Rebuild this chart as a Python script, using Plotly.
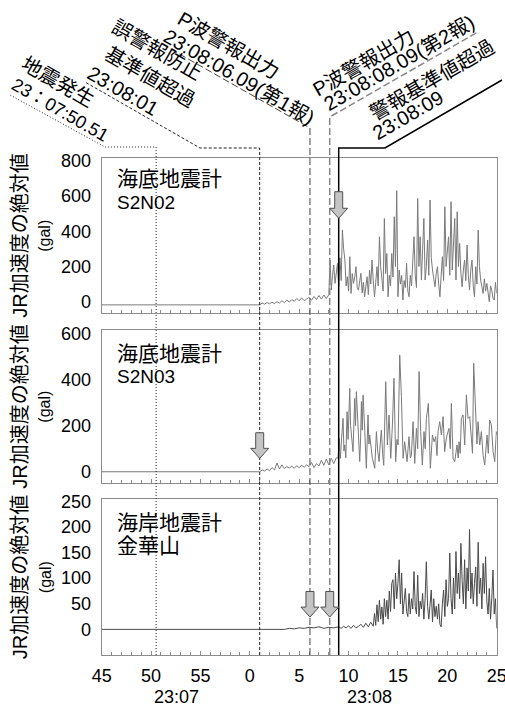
import plotly.graph_objects as go

# figure fills the 505x709 page; body margin removed after plotting (see write_html)
PAGE_W, PAGE_H, OFF = 505, 709, 0
W, H = PAGE_W - OFF, PAGE_H - OFF
FONT = "Liberation Sans, Noto Sans CJK JP, sans-serif"

# ---------------- data ----------------
tick_vals = [45, 50, 55, 60, 65, 70, 75, 80, 85]
tick_text = ['45', '50', '55', '0', '5', '10', '15', '20', '25']
minute_labels = ['23:07', '23:08']
minute_label_t = [52.6, 72.1]

event_t = [50.51, 61.0, 66.09, 68.09, 69.0]
event_text = [
    ["地震発生", "23：07:50.51"],
    ["誤警報防止", "基準値超過", "23:08:01"],
    ["P波警報出力", "23:08:06.09(第1報)"],
    ["P波警報出力", "23:08:08.09(第2報)"],
    ["警報基準値超過", "23:08:09"],
]

panel_name = ["海底地震計", "海底地震計", "海岸地震計"]
panel_sub = ["S2N02", "S2N03", "金華山"]
y_ranges = [[-66, 815], [-50, 614], [-50, 254]]
y_ticks = [[0, 200, 400, 600, 800], [0, 200, 400, 600], [0, 50, 100, 150, 200, 250]]
y_title = "JR加速度の絶対値"
y_unit = "(gal)"

# Panel 1 : S2N02
s1_pre_t = [45, 61.0, 61.25, 61.5, 61.75, 62.0, 62.25, 62.5, 62.75, 63.0, 63.25, 63.5,
            63.75, 64.0, 64.25, 64.5, 64.75, 65.0, 65.25, 65.5, 65.75, 66.0, 66.25,
            66.5, 66.75, 67.0, 67.25, 67.5, 67.75]
s1_pre_v = [-18, -18, -8, -14, -5, -12, -3, -10, 0, -8, 5, -5, 8, -2, 12, 2, 18, 5, 22,
            6, 15, 25, 8, 30, 12, 35, 15, 38, 18]
s1_act_start = 68.0
s1_act_step = 0.125
s1_act_v = [40, 237, 66, 150, 208, 104, 180, 218,
            85, 250, 120, 407, 300, 237, 90, 142,
            60, 256, 47, 160, 104, 140, 199, 80,
            66, 120, 161, 50, 110, 28, 90, 142,
            40, 180, 100, 237, 120, 28, 110, 199,
            90, 369, 200, 123, 60, 473, 160, 274,
            28, 150, 90, 274, 140, 483, 200, 631,
            28, 180, 100, 150, 9, 120, 80, 218,
            60, 28, 150, 90, 237, 369, 150, 80,
            587, 200, 369, 123, 300, 473, 123, 200,
            350, 150, 578, 250, 180, 130, 85, 160,
            199, 100, 28, 150, 256, 120, 540, 200,
            293, 369, 150, 568, 180, 300, 473, 123,
            511, 200, 331, 160, 85, 180, 237, 120,
            322, 150, 66, 180, 237, 90, 28, 199,
            100, 407, 200, 123, 80, 47, 130, 60,
            104, 40, 0, 90, 66, 20, 9, 110,
            47]

# Panel 2 : S2N03
s2_pre_t = [45, 61.0, 61.25, 61.5, 61.75, 62.0, 62.25, 62.5, 62.75, 63.0, 63.25, 63.5,
            63.75, 64.0, 64.25, 64.5, 64.75, 65.0, 65.25, 65.5, 65.75, 66.0, 66.25,
            66.5, 66.75, 67.0, 67.25, 67.5, 67.75, 68.0, 68.25, 68.5, 68.75]
s2_pre_v = [0, 0, 8, 3, 12, 5, 18, 8, 38, 12, 30, 14, 22, 16, 24, 15, 26, 18, 28, 20,
            30, 22, 40, 18, 35, 25, 50, 28, 55, 30, 58, 35, 60]
s2_act_t = [68.94, 69.04, 69.17, 69.3, 69.44, 69.53, 69.61, 69.72, 69.85, 69.95, 70.12,
            70.2, 70.29, 70.45, 70.62, 70.7, 70.79, 70.96, 71.13, 71.22, 71.3, 71.38,
            71.47, 71.64, 71.8, 71.97, 72.06, 72.14, 72.28, 72.41, 72.65, 72.82, 72.95,
            73.09, 73.2, 73.32, 73.45, 73.56, 73.76, 73.93, 74.1, 74.27, 74.44, 74.6,
            74.77, 74.9, 75.01, 75.18, 75.35, 75.52, 75.68, 75.8, 75.92, 76.12, 76.25,
            76.36, 76.53, 76.7, 76.87, 77.0, 77.14, 77.3, 77.47, 77.64, 77.76, 77.88,
            78.08, 78.28, 78.49, 78.66, 78.82, 78.95, 79.06, 79.23, 79.4, 79.57, 79.73,
            79.85, 79.97, 80.17, 80.3, 80.41, 80.58, 80.75, 80.98, 81.1, 81.19, 81.3,
            81.42, 81.59, 81.76, 81.93, 82.1, 82.27, 82.44, 82.55, 82.67, 82.87, 83.0,
            83.11, 83.28, 83.45, 83.62, 83.79, 83.9, 84.02, 84.15, 84.29, 84.46, 84.63,
            84.8, 84.97, 85.0]
s2_act_v = [60, 145, 58, 150, 231, 90, 116, 60, 260, 140, 361,
            200, 159, 87, 318, 200, 347, 159, 44, 150, 304, 180,
            333, 174, 15, 246, 120, 159, 90, 58, 15, 174, 90,
            44, 120, 181, 80, 28, 390, 116, 246, 58, 203, 405,
            44, 140, 116, 506, 325, 58, 130, 90, 44, 152, 60,
            72, 217, 36, 188, 100, 434, 174, 29, 174, 100, 231,
            296, 15, 159, 130, 152, 70, 174, 217, 159, 239, 87,
            130, 159, 188, 100, 296, 58, 44, 116, 60, 130, 80,
            231, 246, 116, 333, 231, 239, 159, 80, 470, 231, 120,
            217, 116, 174, 72, 29, 100, 159, 80, 224, 203, 87,
            44, 174, 160]

# Panel 3 : 金華山
s3_pre_t = [45, 63.5, 64.0, 64.5, 65.0, 65.5, 66.0, 66.5, 67.0, 67.5, 68.0, 68.5, 69.0,
            69.25, 69.5, 69.75, 70.0, 70.25, 70.5, 70.75, 71.0, 71.25, 71.5, 71.75,
            72.0, 72.25, 72.5]
s3_pre_v = [0, 0, 2, 1, 3, 2, 4, 3, 5, 2, 4, 3, 5, 2, 6, 3, 7, 2, 8, 3, 6, 10, 4, 12,
            5, 14, 6]
s3_act_start = 72.625
s3_act_step = 0.125
s3_act_v = [31, 8, 48,
            15, 57, 20, 44, 10, 60, 25, 57,
            20, 75, 35, 90, 97, 40, 110, 60,
            90, 136, 50, 110, 30, 65, 80, 35,
            25, 70, 30, 60, 40, 113, 45, 30,
            106, 25, 55, 40, 70, 20, 60, 132,
            45, 20, 60, 77, 15, 60, 25, 45,
            20, 50, 10, 5, 50, 77, 25, 97,
            45, 60, 149, 60, 30, 100, 40, 152,
            70, 110, 60, 168, 95, 50, 136, 40,
            120, 75, 195, 60, 110, 50, 90, 122,
            45, 170, 70, 100, 40, 129, 70, 142,
            55, 30, 80, 20, 60, 116, 30, 60,
            2]

# block arrows (panel index, time, top value, tip value)
arrow_panel = [0, 1, 2, 2]
arrow_t = [69.0, 61.0, 66.09, 68.09]
arrow_top = [625, 169, 74, 74]
arrow_tip = [474, 58, 24, 24]

# ---------------- layout geometry (page px) ----------------
X0, X1 = 101.7, 496.7
PANEL_PX = [(158.3, 313.3), (330.0, 483.3), (499.3, 655.0)]
T0, T1 = 45, 85
PX_PER_S = (X1 - X0) / (T1 - T0)


def px_x(t):
    return X0 + (t - T0) * PX_PER_S


def pxx(px):
    return (px - OFF) / W


def pxy(py):
    return 1 - (py - OFF) / H


s1_t = s1_pre_t + [s1_act_start + s1_act_step * i for i in range(len(s1_act_v))]
s1_v = s1_pre_v + s1_act_v
s2_t = s2_pre_t + s2_act_t
s2_v = s2_pre_v + s2_act_v
s3_t = s3_pre_t + [s3_act_start + s3_act_step * i for i in range(len(s3_act_v))]
s3_v = s3_pre_v + s3_act_v

series = [(s1_t, s1_v, '#7a7a7a'), (s2_t, s2_v, '#7a7a7a'), (s3_t, s3_v, '#4a4a4a')]

fig = go.Figure()
for i, (t, v, c) in enumerate(series):
    sfx = '' if i == 0 else str(i + 1)
    fig.add_trace(go.Scatter(x=t, y=v, mode='lines', line=dict(color=c, width=1),
                             xaxis='x' + sfx, yaxis='y' + sfx, showlegend=False,
                             hoverinfo='skip'))

FRAME = '#8c8c8c'
layout_axes = {}
for i in range(3):
    sfx = '' if i == 0 else str(i + 1)
    top, bot = PANEL_PX[i]
    layout_axes['xaxis' + sfx] = dict(
        domain=[pxx(X0), pxx(X1)], range=[T0, T1], anchor='y' + sfx, automargin=False,
        showline=True, linecolor=FRAME, linewidth=1, mirror=True,
        ticks='inside', ticklen=4, tickcolor=FRAME,
        tickmode='array', tickvals=tick_vals, ticktext=tick_text,
        showticklabels=(i == 2), ticklabelstandoff=4, ticklabeloverflow='allow',
        minor=dict(tickmode='linear', tick0=45, dtick=1, ticks='inside',
                   ticklen=3, tickcolor=FRAME, showgrid=False),
        showgrid=False, zeroline=False,
        tickfont=dict(size=18, color='black', family=FONT))
    layout_axes['yaxis' + sfx] = dict(
        domain=[pxy(bot), pxy(top)], range=y_ranges[i], anchor='x' + sfx, automargin=False,
        showline=True, linecolor=FRAME, linewidth=1, mirror=True,
        tickmode='array', tickvals=y_ticks[i], ticks='', ticklabelstandoff=6,
        ticklabeloverflow='allow', showgrid=False, zeroline=False,
        tickfont=dict(size=18, color='black', family=FONT))

shapes = []
annotations = []

# event lines: vertical part + leader to the text
line_styles = [
    dict(color='#222222', width=1, dash='1px,2px'),
    dict(color='#222222', width=1, dash='3px,2px'),
    dict(color='#444444', width=1, dash='7px,3px'),
    dict(color='#888888', width=1.5, dash='7px,3px'),
    dict(color='#000000', width=1.5, dash='solid'),
]
leader_top = [147, 148, 128, 117, 148]
leader_bends = [
    [(105, 147), (10, 95)],
    [(200, 148), (85, 82)],
    [(160, 43)],
    [(478, 32)],
    [(385, 148), (502, 80)],
]
for k, t in enumerate(event_t):
    ex = px_x(t)
    pts = [(ex, PANEL_PX[2][1]), (ex, leader_top[k])] + leader_bends[k]
    path = 'M ' + ' L '.join(f'{pxx(a):.5f},{pxy(b):.5f}' for a, b in pts)
    shapes.append(dict(type='path', xref='paper', yref='paper', path=path,
                       line=line_styles[k], layer='above'))

# rotated event labels (one annotation per text line, centre in page px)
label_pos = [
    [(58, 82), (60, 110)],
    [(157, 50), (150, 77), (123, 91)],
    [(228, 45), (239, 77)],
    [(363, 63), (399, 63)],
    [(432, 80), (408, 115)],
]
label_size = [[20, 18], [20, 20, 20], [20, 20], [20, 20], [20, 20]]
label_angle = [30, 30, 30, -30, -30]
for k, lines in enumerate(event_text):
    for j, txt in enumerate(lines):
        cx, cy = label_pos[k][j]
        annotations.append(dict(text=txt, x=pxx(cx), y=pxy(cy), xref='paper', yref='paper',
                                xanchor='center', yanchor='middle', showarrow=False,
                                textangle=label_angle[k],
                                font=dict(size=label_size[k][j], color='black', family=FONT)))

# block arrows
HW, HH, HL = 4.0, 9.0, 10.0  # shaft half-width, head half-width, head length (px)
for k in range(len(arrow_t)):
    p = arrow_panel[k]
    sfx = '' if p == 0 else str(p + 1)
    top, bot = PANEL_PX[p]
    upp = (y_ranges[p][1] - y_ranges[p][0]) / (bot - top)
    t = arrow_t[k]
    a, b = HW / PX_PER_S, HH / PX_PER_S
    base = arrow_tip[k] + HL * upp
    pts = [(t - a, arrow_top[k]), (t + a, arrow_top[k]), (t + a, base), (t + b, base),
           (t, arrow_tip[k]), (t - b, base), (t - a, base)]
    path = 'M ' + ' L '.join(f'{x:.4f},{y:.3f}' for x, y in pts) + ' Z'
    shapes.append(dict(type='path', xref='x' + sfx, yref='y' + sfx, path=path,
                       fillcolor='#c4c4c4', line=dict(color='#505050', width=1),
                       layer='above'))

# panel names and y titles
name_y = [(178, 202), (353, 377), (522, 545)]
for i in range(3):
    annotations.append(dict(text=panel_name[i], x=pxx(115), y=pxy(name_y[i][0]),
                            xref='paper', yref='paper', xanchor='left', yanchor='middle',
                            showarrow=False, font=dict(size=21, color='black', family=FONT)))
    annotations.append(dict(text=panel_sub[i], x=pxx(115), y=pxy(name_y[i][1]),
                            xref='paper', yref='paper', xanchor='left', yanchor='middle',
                            showarrow=False, font=dict(size=19 if i < 2 else 21,
                                                       color='black', family=FONT)))
    cy = (PANEL_PX[i][0] + PANEL_PX[i][1]) / 2
    annotations.append(dict(text=y_title, x=pxx(20), y=pxy(cy), xref='paper', yref='paper',
                            xanchor='center', yanchor='middle', showarrow=False,
                            textangle=-90, font=dict(size=20, color='black', family=FONT)))
    annotations.append(dict(text=y_unit, x=pxx(45), y=pxy(cy), xref='paper', yref='paper',
                            xanchor='center', yanchor='middle', showarrow=False,
                            textangle=-90, font=dict(size=16, color='black', family=FONT)))

# minute labels under the time axis
for lab, t in zip(minute_labels, minute_label_t):
    annotations.append(dict(text=lab, x=pxx(px_x(t)), y=pxy(697), xref='paper', yref='paper',
                            xanchor='center', yanchor='middle', showarrow=False,
                            font=dict(size=18, color='black', family=FONT)))

fig.update_layout(
    width=W, height=H, margin=dict(l=0, r=0, t=0, b=0),
    paper_bgcolor='white', plot_bgcolor='white',
    font=dict(family=FONT, color='black'),
    shapes=shapes, annotations=annotations, showlegend=False,
    **layout_axes)

fig.write_html("out.html", config={'displayModeBar': False, 'staticPlot': True},
               post_script="document.body.style.margin='0';document.body.style.overflow='hidden';")
